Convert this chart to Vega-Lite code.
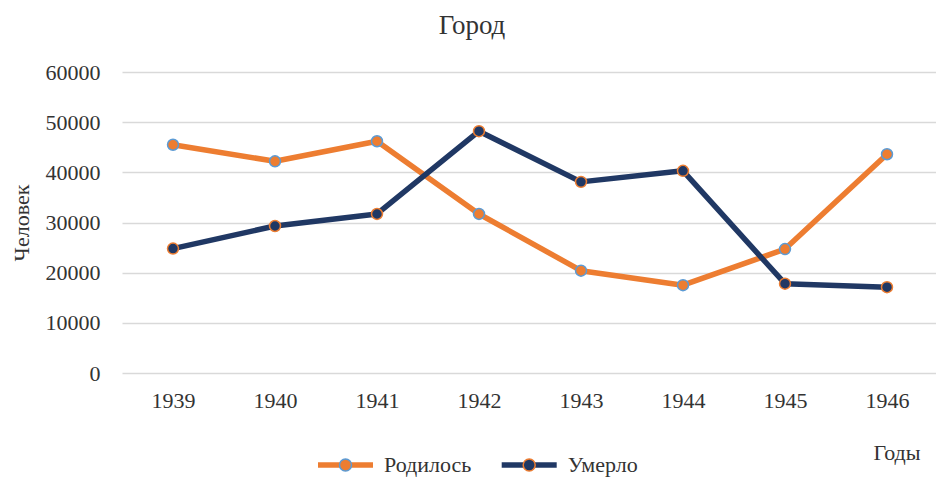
{
  "$schema": "https://vega.github.io/schema/vega-lite/v6.json",
  "width": 814,
  "height": 301,
  "autosize": "none",
  "padding": {"left": 122, "top": 72, "right": 0, "bottom": 104},
  "background": "white",
  "title": {"text": "Город", "font": "Liberation Serif", "fontSize": 27, "fontWeight": "normal", "color": "#333333", "anchor": "middle", "dx": -57, "offset": 21},
  "data": {"values": [
    {"year": "1939", "series": "Родилось", "value": 45500},
    {"year": "1940", "series": "Родилось", "value": 42200},
    {"year": "1941", "series": "Родилось", "value": 46200},
    {"year": "1942", "series": "Родилось", "value": 31700},
    {"year": "1943", "series": "Родилось", "value": 20400},
    {"year": "1944", "series": "Родилось", "value": 17500},
    {"year": "1945", "series": "Родилось", "value": 24700},
    {"year": "1946", "series": "Родилось", "value": 43600},
    {"year": "1939", "series": "Умерло", "value": 24800},
    {"year": "1940", "series": "Умерло", "value": 29300},
    {"year": "1941", "series": "Умерло", "value": 31700},
    {"year": "1942", "series": "Умерло", "value": 48200},
    {"year": "1943", "series": "Умерло", "value": 38100},
    {"year": "1944", "series": "Умерло", "value": 40300},
    {"year": "1945", "series": "Умерло", "value": 17800},
    {"year": "1946", "series": "Умерло", "value": 17100}
  ]},
  "encoding": {
    "x": {"field": "year", "type": "ordinal", "sort": null,
      "scale": {"type": "point", "range": [0, 816], "padding": 0.5},
      "axis": {"labelAngle": 0, "domain": false, "ticks": false, "grid": false, "labelPadding": 17,
        "labelFont": "Liberation Serif", "labelFontSize": 22, "labelColor": "#333333",
        "title": "Годы", "titleFont": "Liberation Serif", "titleFontSize": 22, "titleFontWeight": "normal", "titleColor": "#333333",
        "titleX": 774.5, "titleY": 86, "titleAlign": "center", "titleBaseline": "alphabetic", "titleAnchor": null}},
    "y": {"field": "value", "type": "quantitative",
      "scale": {"domain": [0, 60000], "nice": false},
      "axis": {"values": [0, 10000, 20000, 30000, 40000, 50000, 60000], "format": "d", "domain": false, "ticks": false,
        "grid": true, "gridColor": "#d9d9d9", "gridWidth": 1.5, "labelPadding": 22,
        "labelFont": "Liberation Serif", "labelFontSize": 22, "labelColor": "#333333",
        "title": "Человек", "titleFont": "Liberation Serif", "titleFontSize": 22, "titleFontWeight": "normal", "titleColor": "#333333",
        "titleAngle": -90, "titleX": -101, "titleY": 150.5, "titleAlign": "center", "titleBaseline": "middle"}}
  },
  "layer": [
    {
      "transform": [{"filter": "datum.series === 'Родилось'"}],
      "mark": {"type": "line", "strokeWidth": 5.5, "strokeJoin": "round"},
      "encoding": {
        "color": {"field": "series", "type": "nominal",
          "scale": {"domain": ["Родилось"], "range": ["#ED7D31"]},
          "legend": {"orient": "none", "legendX": 193, "legendY": 362.5, "title": null,
            "symbolType": "stroke", "symbolSize": 3025, "symbolStrokeWidth": 5.5, "padding": 0,
            "labelFont": "Liberation Serif", "labelFontSize": 22, "labelColor": "#333333", "labelOffset": 8}}
      }
    },
    {
      "transform": [{"filter": "datum.series === 'Умерло'"}],
      "mark": {"type": "line", "strokeWidth": 5.5, "strokeJoin": "round"},
      "encoding": {
        "color": {"field": "series", "type": "nominal",
          "scale": {"domain": ["Умерло"], "range": ["#203864"]},
          "legend": {"orient": "none", "legendX": 376.7, "legendY": 362.5, "title": null,
            "symbolType": "stroke", "symbolSize": 3025, "symbolStrokeWidth": 5.5, "padding": 0,
            "labelFont": "Liberation Serif", "labelFontSize": 22, "labelColor": "#333333", "labelOffset": 8}}
      }
    },
    {
      "transform": [{"filter": "datum.series === 'Родилось'"}],
      "mark": {"type": "point", "filled": true, "size": 120, "strokeWidth": 1.5, "stroke": "#5B9BD5", "opacity": 1},
      "encoding": {
        "color": {"field": "series", "type": "nominal",
          "scale": {"domain": ["Родилось"], "range": ["#ED7D31"]},
          "legend": {"orient": "none", "legendX": 193, "legendY": 362.5, "title": null,
            "symbolType": "M0.2017,0A0.2017,0.2017,0,1,1,-0.2017,0A0.2017,0.2017,0,1,1,0.2017,0Z", "symbolSize": 3540.25,
            "symbolStrokeWidth": 1.5, "symbolStrokeColor": "#5B9BD5", "padding": 0,
            "labelExpr": "''", "labelFont": "Liberation Serif", "labelFontSize": 22, "labelOffset": 8}}
      }
    },
    {
      "transform": [{"filter": "datum.series === 'Умерло'"}],
      "mark": {"type": "point", "filled": true, "size": 120, "strokeWidth": 1.5, "stroke": "#ED7D31", "opacity": 1},
      "encoding": {
        "color": {"field": "series", "type": "nominal",
          "scale": {"domain": ["Умерло"], "range": ["#203864"]},
          "legend": {"orient": "none", "legendX": 376.7, "legendY": 362.5, "title": null,
            "symbolType": "M0.2017,0A0.2017,0.2017,0,1,1,-0.2017,0A0.2017,0.2017,0,1,1,0.2017,0Z", "symbolSize": 3540.25,
            "symbolStrokeWidth": 1.5, "symbolStrokeColor": "#ED7D31", "padding": 0,
            "labelExpr": "''", "labelFont": "Liberation Serif", "labelFontSize": 22, "labelOffset": 8}}
      }
    }
  ],
  "resolve": {"scale": {"color": "independent"}, "legend": {"color": "independent"}},
  "config": {"view": {"stroke": null}}
}
